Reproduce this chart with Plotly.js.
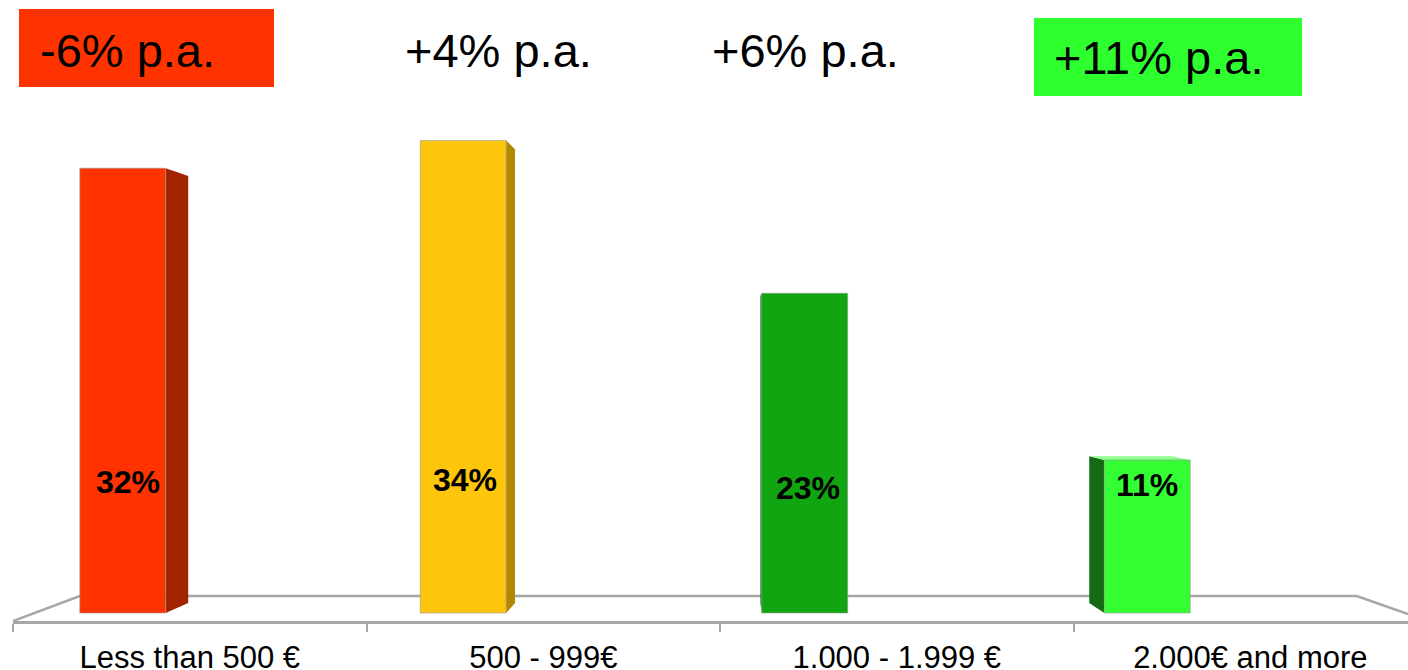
<!DOCTYPE html>
<html><head><meta charset="utf-8">
<script src="https://cdn.plot.ly/plotly-3.0.1.min.js"></script>
<style>html,body{margin:0;padding:0;background:#fff;overflow:hidden}#chart{width:1408px;height:670px}</style>
</head><body><div id="chart"></div>
<script>
// ---- data ----
const categories = ['Less than 500 €', '500 - 999€', '1.000 - 1.999 €', '2.000€ and more'];
const shares = [32, 34, 23, 11];
const shareLabels = ['32%', '34%', '23%', '11%'];
const growthLabels = ['-6% p.a.', '+4% p.a.', '+6% p.a.', '+11% p.a.'];

// ---- styles / layout constants ----
const FONT = 'Arial, "Liberation Sans", sans-serif';
const frontColors = ['#ff3300', '#fdc50b', '#11a511', '#33ff33'];
const sideColors = ['#a22300', '#b08900', '#0b6e0b', '#156b15'];
const topColors = ['#ff7a55', '#ffdc66', '#5cc85c', '#8cff8c'];
const barOffsets = [-0.311, -0.348, -0.382, -0.413];
const barWidth = 0.243;
const labelY = [9.4, 9.6, 9.0, 9.2];
const labelDx = [0.015, 0.006, 0.008, 0.0];
const vp = {x: 1.522, y: 18.06};
const depth = 0.96;
const growthBg = ['#ff3300', null, null, '#2eff2e'];
const growthLeftPx = [39, 404, 711, 1053];
const growthMidPx = [50, 50, 50, 58];
const growthBoxPx = [[19, 9, 274, 87], null, null, [1034, 18, 1302, 96]];

const M = {l: 13, r: 0, t: 0, b: 49};
const PW = 1408 - M.l - M.r, PH = 670 - M.t - M.b;
const pxX = p => (p - M.l) / PW;
const pxY = p => (PH + M.t - p) / PH;

const shapes = [];
const annotations = [];
const gray = '#a6a6a6';

// floor (back edge and sides)
shapes.push({type: 'path', xref: 'x', yref: 'y', layer: 'below',
  path: 'M-0.5,-0.576 L-0.311,1.22 L3.301,1.22 L3.446,-0.07',
  line: {color: gray, width: 2.5}});

const bx = x => vp.x + depth * (x - vp.x);
const by = y => vp.y + depth * (y - vp.y);

shares.forEach((v, i) => {
  const xl = i + barOffsets[i], xr = xl + barWidth;
  const ex = xr < vp.x ? xr : xl;
  shapes.push({type: 'path', xref: 'x', yref: 'y', layer: 'below',
    path: `M${ex},0 L${ex},${v} L${bx(ex)},${by(v)} L${bx(ex)},${by(0)} Z`,
    fillcolor: sideColors[i], line: {width: 0}});
  if (v < vp.y) {
    shapes.push({type: 'path', xref: 'x', yref: 'y', layer: 'below',
      path: `M${xl},${v} L${xr},${v} L${bx(xr)},${by(v)} L${bx(xl)},${by(v)} Z`,
      fillcolor: topColors[i], line: {width: 0}});
  }
  annotations.push({xref: 'x', yref: 'y', x: xl + barWidth / 2 + labelDx[i], y: labelY[i],
    text: '<b>' + shareLabels[i] + '</b>', showarrow: false,
    font: {family: FONT, size: 32, color: '#000'}});
});

growthLabels.forEach((t, i) => {
  const b = growthBoxPx[i];
  if (b) {
    shapes.push({type: 'rect', xref: 'paper', yref: 'paper', layer: 'above',
      x0: pxX(b[0]), x1: pxX(b[2]), y0: pxY(b[3]), y1: pxY(b[1]),
      fillcolor: growthBg[i], line: {width: 0}});
  }
  annotations.push({xref: 'paper', yref: 'paper', x: pxX(growthLeftPx[i]), y: pxY(growthMidPx[i]),
    xanchor: 'left', yanchor: 'middle', text: t, showarrow: false, borderpad: 0,
    font: {family: FONT, size: 47, color: '#000'}});
});

const trace = {
  type: 'bar', x: categories, y: shares,
  width: barWidth, offset: barOffsets,
  marker: {color: frontColors, line: {color: 'rgba(150,150,150,0.6)', width: 1}},
  hoverinfo: 'none'
};

const layout = {
  width: 1408, height: 670,
  margin: M,
  paper_bgcolor: '#fff', plot_bgcolor: '#fff',
  showlegend: false,
  font: {family: FONT, color: '#000'},
  xaxis: {
    type: 'category', range: [-0.5, 3.446], tickson: 'boundaries',
    ticks: 'outside', ticklen: 8, tickwidth: 2, tickcolor: gray,
    showline: true, linecolor: gray, linewidth: 3,
    showgrid: false, zeroline: false, automargin: false,
    tickfont: {family: FONT, size: 31, color: '#000'},
    ticklabelstandoff: 7, fixedrange: true
  },
  yaxis: {range: [-0.576, 44.1], visible: false, showgrid: false, zeroline: false, fixedrange: true, automargin: false},
  shapes: shapes,
  annotations: annotations
};

Plotly.newPlot('chart', [trace], layout, {displayModeBar: false, staticPlot: true});
</script></body></html>
